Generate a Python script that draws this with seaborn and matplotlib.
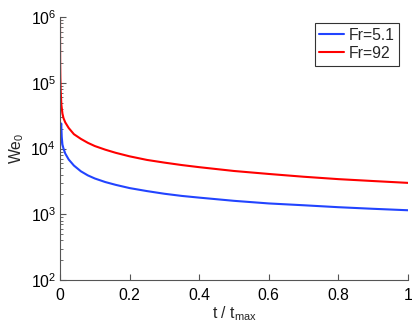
import numpy as np
import pandas as pd
import matplotlib
matplotlib.use("Agg")
import matplotlib.pyplot as plt
import seaborn as sns
from matplotlib.ticker import LogLocator, NullFormatter

# Data
t_red = [0.0, 0.0005, 0.001, 0.002, 0.004, 0.007, 0.01, 0.015, 0.025, 0.04, 0.06, 0.08,
         0.1, 0.13, 0.16, 0.2, 0.25, 0.3, 0.35, 0.4, 0.5, 0.6, 0.7, 0.8, 0.9, 1.0]
we_red = [9.8e5, 2.0e5, 1.2e5, 7.5e4, 4.6e4, 3.4e4, 2.9e4, 2.5e4, 2.05e4, 1.65e4, 1.4e4, 1.22e4,
          1.09e4, 9.6e3, 8.6e3, 7.6e3, 6.7e3, 6.1e3, 5.6e3, 5.2e3, 4.55e3, 4.1e3, 3.72e3, 3.42e3, 3.2e3, 3.0e3]

t_blue = [0.0, 0.001, 0.002, 0.0035, 0.005, 0.007, 0.01, 0.015, 0.025, 0.04, 0.06, 0.08,
          0.1, 0.13, 0.16, 0.2, 0.25, 0.3, 0.35, 0.4, 0.5, 0.6, 0.7, 0.8, 0.9, 1.0]
we_blue = [1.0e4, 1.5e4, 2.0e4, 2.4e4, 1.5e4, 1.15e4, 1.0e4, 8.4e3, 6.8e3, 5.5e3, 4.5e3, 3.9e3,
           3.5e3, 3.09e3, 2.8e3, 2.5e3, 2.25e3, 2.05e3, 1.9e3, 1.79e3, 1.6e3, 1.46e3, 1.37e3, 1.28e3, 1.21e3, 1.15e3]

labels = ["Fr=5.1", "Fr=92"]
colors = ["#2244ff", "#ff0000"]

df = pd.concat([
    pd.DataFrame({"t": t_blue, "We": we_blue, "series": labels[0]}),
    pd.DataFrame({"t": t_red, "We": we_red, "series": labels[1]}),
])

sns.set_theme(style="ticks")
plt.rcParams['font.family'] = ['Liberation Sans', 'DejaVu Sans']
plt.rcParams['mathtext.fontset'] = 'custom'
plt.rcParams['mathtext.rm'] = 'Liberation Sans'
plt.rcParams['mathtext.it'] = 'Liberation Sans:italic'

fig = plt.figure(figsize=(4.15, 3.30), dpi=100)
ax = fig.add_axes([60/415, 1-280/330, (408-60)/415, (280-17)/330])

sns.lineplot(data=df, x="t", y="We", hue="series", palette=dict(zip(labels, colors)),
             linewidth=1.5, ax=ax, sort=False, estimator=None)

ax.set_yscale("log")
ax.set_xlim(0, 1)
ax.set_ylim(1e2, 1e6)
ax.set_xticks([0, 0.2, 0.4, 0.6, 0.8, 1])
ax.set_xticklabels(["0", "0.2", "0.4", "0.6", "0.8", "1"])
ax.yaxis.set_major_locator(LogLocator(base=10, numticks=10))
ax.yaxis.set_minor_locator(LogLocator(base=10, subs=np.arange(2, 10), numticks=20))
ax.yaxis.set_minor_formatter(NullFormatter())

for s in ["top", "right"]:
    ax.spines[s].set_visible(False)
for s in ["left", "bottom"]:
    ax.spines[s].set_color("#555555")
    ax.spines[s].set_linewidth(0.8)

ax.tick_params(axis="x", which="major", direction="in", length=4, width=0.8,
               color="#555555", labelsize=11.3, labelcolor="black", pad=6)
ax.tick_params(axis="y", which="major", direction="in", length=4, width=0.8,
               color="#555555", labelsize=11.3, labelcolor="black", pad=3)
ax.tick_params(axis="y", which="minor", direction="in", length=2, width=0.6, color="#555555")

ax.set_xlabel("t / t$_{\\mathrm{max}}$", fontsize=11.3, labelpad=1)
ax.set_ylabel("We$_0$", fontsize=11.3, labelpad=3)

leg = ax.legend(loc="upper right", bbox_to_anchor=(0.974, 0.977), fontsize=11.3, frameon=True,
                fancybox=False, edgecolor="black", handlelength=1.6, borderpad=0.3,
                labelspacing=0.2, handletextpad=0.25, borderaxespad=0.0)
leg.get_frame().set_linewidth(0.8)
leg.set_title(None)

fig.savefig("out.png", dpi=100)
